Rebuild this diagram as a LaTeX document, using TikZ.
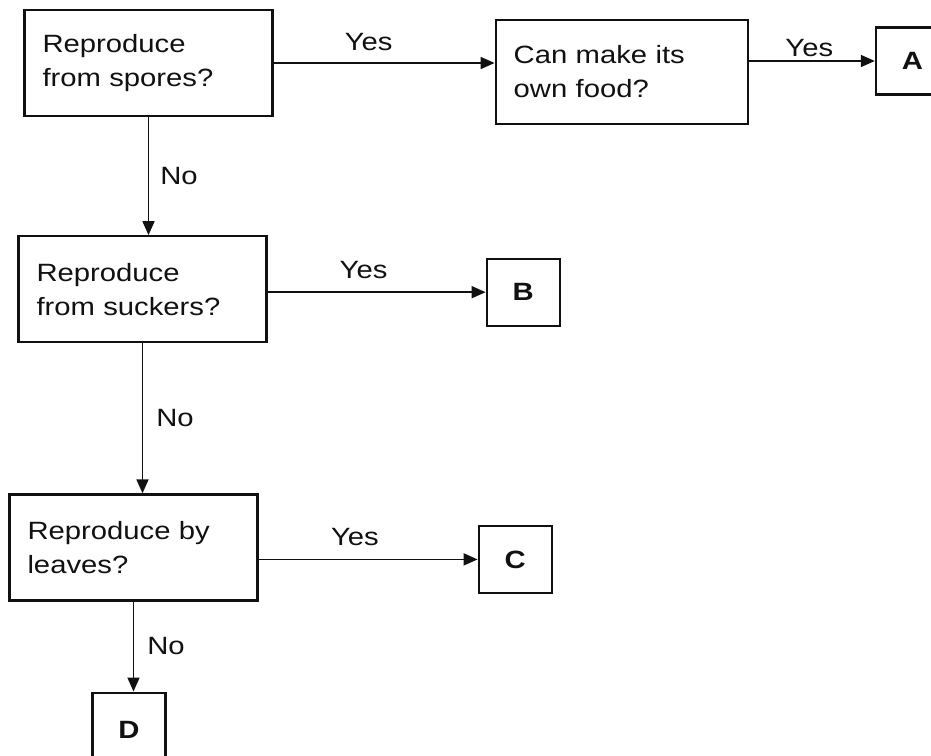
\documentclass[tikz,border=0pt]{standalone}
\usepackage{fontspec}
\setmainfont[FakeStretch=1.17]{Liberation Sans}
\usepackage{tikz}
\usetikzlibrary{arrows.meta,positioning}
\definecolor{ink}{HTML}{111111}

\begin{document}
\begin{tikzpicture}[
  x=1pt,y=-1pt,
  font=\fontsize{25}{34}\selectfont,
  question/.style={draw=ink,line width=2.2pt,text=ink,align=left,
                   text width=212pt,inner xsep=18pt,minimum height=106pt},
  leaf/.style={draw=ink,line width=2.2pt,text=ink,font=\fontsize{25}{34}\selectfont\bfseries,
               minimum width=73pt,minimum height=67pt},
  answer/.style={text=ink,inner sep=2pt},
  arrow/.style={-{Triangle[length=14pt,width=12pt]},draw=ink,line width=1.7pt},
]
\useasboundingbox (0,0) rectangle (931,755);
\clip (0,0) rectangle (931,755);

\node[question] (spores) at (148.5,63) {Reproduce\\from spores?};
\node[question,right=221pt of spores,yshift=-9pt,text width=216pt,minimum height=104pt] (food) {Can make its\\own food?};
\node[leaf,right=126pt of food,yshift=11pt] (a) {A};

\node[question,below=118pt of spores,xshift=-6pt] (suckers) {Reproduce\\from suckers?};
\node[leaf,right=218pt of suckers,yshift=-3pt] (b) {B};

\node[question,below=150pt of suckers,xshift=-9pt] (leaves) {Reproduce by\\leaves?};
\node[leaf,right=219pt of leaves,yshift=-12pt] (c) {C};

\node[leaf,below=90pt of leaves,xshift=-4.5pt,minimum height=74pt] (d) {D};

\draw[arrow] (spores) -- node[answer,pos=0.43,above=9pt]{Yes} (spores -| food.west);
\draw[arrow] (food.east |- a) -- node[answer,pos=0.48,above=1pt]{Yes} (a);
\draw[arrow] (suckers.east |- b) -- node[answer,pos=0.44,above=11pt]{Yes} (b);
\draw[arrow] (leaves.east |- c) -- node[answer,pos=0.44,above=11pt]{Yes} (c);

\draw[arrow] (spores) -- node[answer,right=9pt]{No} (spores |- suckers.north);
\draw[arrow] (suckers) -- node[answer,right=11pt]{No} (suckers |- leaves.north);
\draw[arrow] (leaves) -- node[answer,right=11pt]{No} (leaves |- d.north);
\end{tikzpicture}
\end{document}
